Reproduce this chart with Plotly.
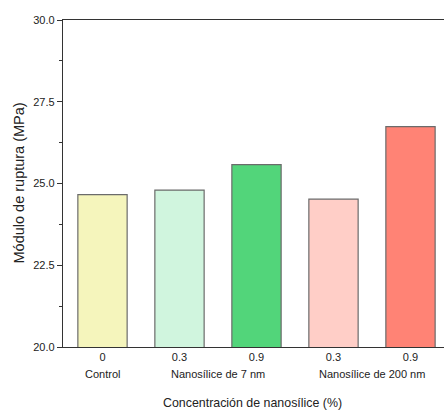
import plotly.graph_objects as go

# Flexural modulus of rupture by nanosilica treatment
concentracion = ["0", "0.3", "0.9", "0.3", "0.9"]
grupo = ["Control", "Nanosílice de 7 nm", "Nanosílice de 7 nm",
         "Nanosílice de 200 nm", "Nanosílice de 200 nm"]
modulo_ruptura = [24.66, 24.80, 25.58, 24.52, 26.74]
colores = ["#F5F5BC", "#D0F5DE", "#52D57A", "#FFCEC7", "#FF8375"]

y_ticks = [20.0, 22.5, 25.0, 27.5, 30.0]

FONT = "Liberation Sans, Arial, sans-serif"
posiciones = list(range(len(modulo_ruptura)))

fig = go.Figure(
    go.Bar(
        x=posiciones,
        y=modulo_ruptura,
        marker=dict(color=colores, line=dict(color="#6b6b6b", width=1.2)),
        width=0.64,
    )
)

# group labels centred under their bars
etiquetas = []
for g in dict.fromkeys(grupo):
    idx = [i for i, v in enumerate(grupo) if v == g]
    etiquetas.append(
        dict(
            x=sum(idx) / len(idx), y=-0.083, xref="x", yref="paper",
            text=g, showarrow=False, yanchor="middle", xanchor="center",
            font=dict(family=FONT, size=11, color="#222"),
        )
    )
# axis titles
etiquetas.append(
    dict(
        x=(posiciones[0] + posiciones[-1]) / 2 - 0.05, y=-0.172, xref="x", yref="paper",
        text="Concentración de nanosílice (%)", showarrow=False,
        yanchor="middle", xanchor="center",
        font=dict(family=FONT, size=12.4, color="#222"),
    )
)
etiquetas.append(
    dict(
        x=0, y=0.5, xref="paper", yref="paper", xshift=-45,
        text="Módulo de ruptura (MPa)", showarrow=False, textangle=-90,
        xanchor="center", yanchor="middle",
        font=dict(family=FONT, size=14.5, color="#222"),
    )
)

fig.update_layout(
    width=444,
    height=410,
    margin=dict(l=63, r=0, t=20, b=63),
    plot_bgcolor="white",
    paper_bgcolor="white",
    showlegend=False,
    font=dict(family=FONT, size=11, color="#222"),
    annotations=etiquetas,
    xaxis=dict(
        range=[-0.513, 4.435],
        tickvals=posiciones,
        ticktext=concentracion,
        showline=True,
        linecolor="#333",
        linewidth=1.3,
        mirror=True,
        ticks="",
        showgrid=False,
        zeroline=False,
        tickfont=dict(family=FONT, size=11, color="#222"),
    ),
    yaxis=dict(
        range=[20, 30],
        tickvals=y_ticks,
        ticktext=[f"{v:.1f}" for v in y_ticks],
        showline=True,
        linecolor="#333",
        linewidth=1.3,
        ticks="outside",
        ticklen=5,
        tickwidth=1.2,
        tickcolor="#333",
        minor=dict(tickvals=[21.25, 23.75, 26.25, 28.75], ticks="outside",
                   ticklen=3, tickcolor="#333", tickwidth=1.2),
        showgrid=False,
        zeroline=False,
        tickfont=dict(family=FONT, size=11, color="#222"),
    ),
)

fig.write_html("out.html")
